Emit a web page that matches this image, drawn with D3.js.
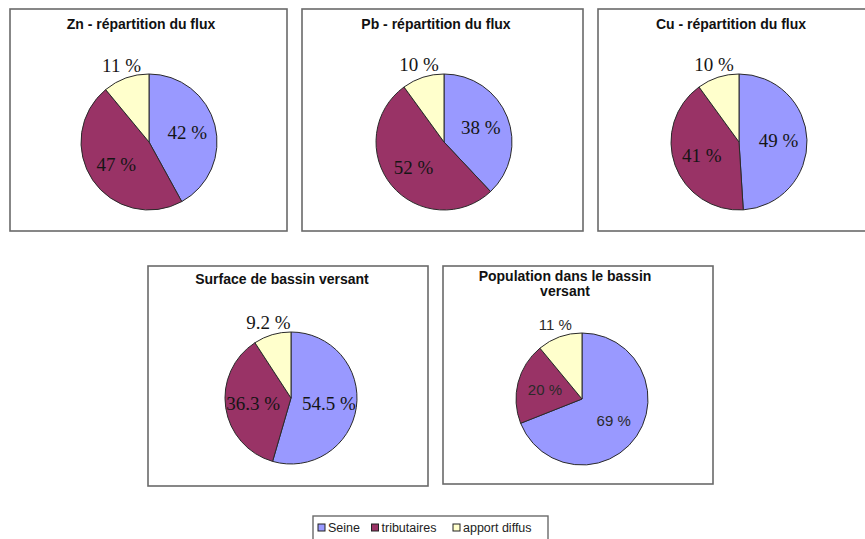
<!DOCTYPE html>
<html>
<head>
<meta charset="utf-8">
<script src="https://cdn.jsdelivr.net/npm/d3@7"></script>
<style>
  html, body { margin: 0; padding: 0; background: #fff; }
  svg { display: block; }
</style>
</head>
<body>
<svg id="chart" width="865" height="539"></svg>
<script>
// Sources of the flux, in drawing order (clockwise from 12 o'clock)
const categories = ["Seine", "tributaires", "apport diffus"];
const sliceColors = ["#9999FF", "#993366", "#FFFFCC"];

// Share (%) per source for each pie
const znValues = [42, 47, 11];
const pbValues = [38, 52, 10];
const cuValues = [49, 41, 10];
const surfaceValues = [54.5, 36.3, 9.2];
const populationValues = [69, 20, 11];

const titles = [
  ["Zn - répartition du flux"],
  ["Pb - répartition du flux"],
  ["Cu - répartition du flux"],
  ["Surface de bassin versant"],
  ["Population dans le bassin", "versant"]
];
const seriesList = [znValues, pbValues, cuValues, surfaceValues, populationValues];

// Panel geometry: frame, pie centre/radius, title anchor, label font
const layout = [
  { box: [10, 9, 277, 222],  cx: 149, cy: 142, r: 68, tx: 141, ty: 29, font: "serif" },
  { box: [302, 9, 281, 222], cx: 444, cy: 142, r: 68, tx: 436, ty: 29, font: "serif" },
  { box: [598, 9, 280, 222], cx: 739, cy: 142, r: 68, tx: 731, ty: 29, font: "serif" },
  { box: [148, 266, 280, 220], cx: 291, cy: 398, r: 66, tx: 282, ty: 284, font: "serif" },
  { box: [443, 266, 270, 218], cx: 582, cy: 399, r: 66, tx: 565, ty: 281, font: "sans" }
];

const svg = d3.select("#chart");

const pie = d3.pie().sort(null).value(d => d).startAngle(0).endAngle(2 * Math.PI);
const fmt = v => String(v) + " %";

seriesList.forEach((values, i) => {
  const L = layout[i];
  const g = svg.append("g");

  // frame
  g.append("rect")
    .attr("x", L.box[0]).attr("y", L.box[1])
    .attr("width", L.box[2]).attr("height", L.box[3])
    .attr("fill", "#fff")
    .attr("stroke", "#6a6a6a")
    .attr("stroke-width", 1.6);

  // title
  const t = g.append("text")
    .attr("x", L.tx).attr("y", L.ty)
    .attr("text-anchor", "middle")
    .attr("font-family", "Liberation Sans, Arial, sans-serif")
    .attr("font-weight", "bold")
    .attr("font-size", 14)
    .attr("fill", "#111");
  titles[i].forEach((line, k) => {
    t.append("tspan").attr("x", L.tx).attr("dy", k === 0 ? 0 : 15).text(line);
  });

  const arcs = pie(values);
  const arc = d3.arc().innerRadius(0).outerRadius(L.r);
  const inner = d3.arc().innerRadius(L.r * 0.58).outerRadius(L.r * 0.58);
  const outer = d3.arc().innerRadius(L.r + 13).outerRadius(L.r + 13);

  const pg = g.append("g").attr("transform", `translate(${L.cx},${L.cy})`);
  pg.selectAll("path")
    .data(arcs)
    .join("path")
    .attr("d", arc)
    .attr("fill", (d, j) => sliceColors[j])
    .attr("stroke", "#2a2a2a")
    .attr("stroke-width", 1);

  const serif = L.font === "serif";
  pg.selectAll("text")
    .data(arcs)
    .join("text")
    .attr("transform", (d, j) => `translate(${(j === 2 ? outer : inner).centroid(d)})`)
    .attr("text-anchor", "middle")
    .attr("dominant-baseline", "central")
    .attr("font-family", serif ? "Liberation Serif, Times New Roman, serif" : "Liberation Sans, Arial, sans-serif")
    .attr("font-size", serif ? 19 : 15)
    .attr("fill", serif ? "#151515" : "#2a2a2a")
    .text(d => fmt(d.data));
});

// legend
const lg = svg.append("g");
lg.append("rect")
  .attr("x", 313).attr("y", 516).attr("width", 235).attr("height", 26)
  .attr("fill", "#fff").attr("stroke", "#6a6a6a").attr("stroke-width", 1.4);

const legendX = d3.scalePoint().domain(categories).range([318, 453]);
const adjust = { "Seine": 0, "tributaires": -14, "apport diffus": 0 };
const items = lg.selectAll("g.item")
  .data(categories)
  .join("g")
  .attr("class", "item")
  .attr("transform", d => `translate(${legendX(d) + adjust[d]},528)`);
items.append("rect")
  .attr("x", 0).attr("y", -4).attr("width", 7).attr("height", 7)
  .attr("fill", (d, j) => sliceColors[j])
  .attr("stroke", "#222").attr("stroke-width", 1);
items.append("text")
  .attr("x", 10).attr("y", 0)
  .attr("dominant-baseline", "central")
  .attr("font-family", "Liberation Sans, Arial, sans-serif")
  .attr("font-size", 12.5)
  .attr("fill", "#222")
  .text(d => d);
</script>
</body>
</html>
